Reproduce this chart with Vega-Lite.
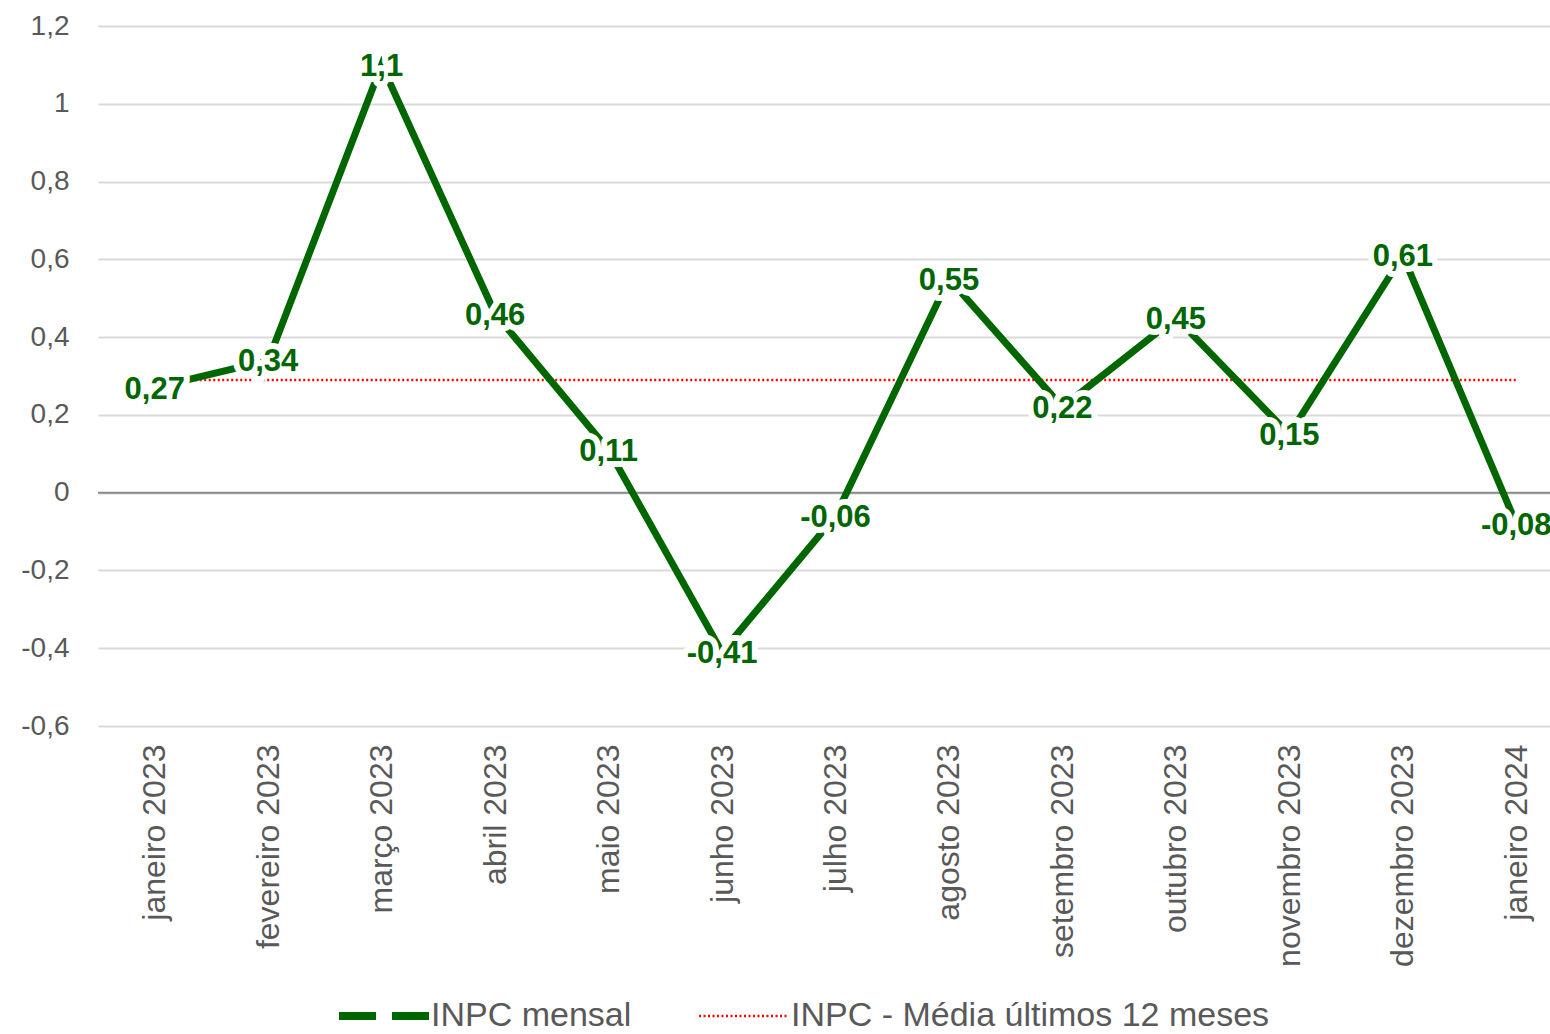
{
  "$schema": "https://vega.github.io/schema/vega-lite/v6.json",
  "width": 1475,
  "height": 700,
  "autosize": {"type": "none"},
  "padding": {"left": 98, "top": 26, "right": 0, "bottom": 308},
  "background": "white",
  "config": {
    "view": {"stroke": null},
    "font": "Liberation Sans",
    "locale": {"number": {"decimal": ",", "thousands": ".", "grouping": [3], "currency": ["R$", ""], "minus": "-"}}
  },
  "data": {
    "values": [
      {"mes": "janeiro 2023", "serie": "INPC mensal", "valor": 0.27},
      {"mes": "fevereiro 2023", "serie": "INPC mensal", "valor": 0.34},
      {"mes": "março 2023", "serie": "INPC mensal", "valor": 1.1},
      {"mes": "abril 2023", "serie": "INPC mensal", "valor": 0.46},
      {"mes": "maio 2023", "serie": "INPC mensal", "valor": 0.11},
      {"mes": "junho 2023", "serie": "INPC mensal", "valor": -0.41},
      {"mes": "julho 2023", "serie": "INPC mensal", "valor": -0.06},
      {"mes": "agosto 2023", "serie": "INPC mensal", "valor": 0.55},
      {"mes": "setembro 2023", "serie": "INPC mensal", "valor": 0.22},
      {"mes": "outubro 2023", "serie": "INPC mensal", "valor": 0.45},
      {"mes": "novembro 2023", "serie": "INPC mensal", "valor": 0.15},
      {"mes": "dezembro 2023", "serie": "INPC mensal", "valor": 0.61},
      {"mes": "janeiro 2024", "serie": "INPC mensal", "valor": -0.08},
      {"mes": "janeiro 2023", "serie": "INPC - Média últimos 12 meses", "valor": 0.29},
      {"mes": "fevereiro 2023", "serie": "INPC - Média últimos 12 meses", "valor": 0.29},
      {"mes": "março 2023", "serie": "INPC - Média últimos 12 meses", "valor": 0.29},
      {"mes": "abril 2023", "serie": "INPC - Média últimos 12 meses", "valor": 0.29},
      {"mes": "maio 2023", "serie": "INPC - Média últimos 12 meses", "valor": 0.29},
      {"mes": "junho 2023", "serie": "INPC - Média últimos 12 meses", "valor": 0.29},
      {"mes": "julho 2023", "serie": "INPC - Média últimos 12 meses", "valor": 0.29},
      {"mes": "agosto 2023", "serie": "INPC - Média últimos 12 meses", "valor": 0.29},
      {"mes": "setembro 2023", "serie": "INPC - Média últimos 12 meses", "valor": 0.29},
      {"mes": "outubro 2023", "serie": "INPC - Média últimos 12 meses", "valor": 0.29},
      {"mes": "novembro 2023", "serie": "INPC - Média últimos 12 meses", "valor": 0.29},
      {"mes": "dezembro 2023", "serie": "INPC - Média últimos 12 meses", "valor": 0.29},
      {"mes": "janeiro 2024", "serie": "INPC - Média últimos 12 meses", "valor": 0.29}
    ]
  },
  "layer": [
    {
      "mark": {"type": "line", "interpolate": "linear"},
      "transform": [{"filter": "datum.serie == 'INPC - Média últimos 12 meses'"}],
      "encoding": {
        "x": {
          "field": "mes", "type": "ordinal", "sort": null,
          "scale": {"type": "point", "padding": 0.5},
          "axis": {
            "title": null, "labelAngle": -90, "labelFontSize": 32, "labelColor": "#595959",
            "labelPadding": 18, "ticks": false, "domain": false, "grid": false, "labelLimit": 400
          }
        },
        "y": {
          "field": "valor", "type": "quantitative",
          "scale": {"domain": [-0.6, 1.2], "nice": false, "zero": false},
          "axis": {
            "title": null, "values": [-0.6, -0.4, -0.2, 0, 0.2, 0.4, 0.6, 0.8, 1, 1.2],
            "format": ".1~f", "labelFontSize": 28, "labelColor": "#595959", "labelPadding": 29,
            "ticks": false, "domain": false, "grid": true, "gridColor": "#d9d9d9", "gridWidth": 2
          }
        },
        "color": {
          "field": "serie", "type": "nominal",
          "scale": {"domain": ["INPC mensal", "INPC - Média últimos 12 meses"], "range": ["#006600", "#ff0000"]},
          "legend": {
            "title": null, "orient": "none", "legendX": 269, "legendY": 973, "direction": "horizontal", "symbolType": "stroke",
            "symbolSize": 8100, "labelFontSize": 34, "labelColor": "#595959", "labelOffset": 30,
            "columnPadding": 62, "labelLimit": 600,
            "encode": {
              "symbols": {
                "update": {
                  "strokeDash": {"signal": "datum.value == 'INPC mensal' ? [37, 16] : [2, 2.5]"},
                  "strokeWidth": {"signal": "datum.value == 'INPC mensal' ? 8 : 2.5"}
                }
              }
            }
          }
        },
        "strokeDash": {"value": [2, 2.5]},
        "strokeWidth": {"value": 2.5}
      }
    },
    {
      "data": {"values": [{"zero": 0}]},
      "mark": {"type": "rule", "color": "#8a8a8a", "strokeWidth": 2},
      "encoding": {"y": {"field": "zero", "type": "quantitative"}}
    },
    {
      "mark": {"type": "line", "strokeWidth": 7, "strokeCap": "butt", "strokeJoin": "miter"},
      "transform": [{"filter": "datum.serie == 'INPC mensal'"}],
      "encoding": {
        "x": {"field": "mes", "type": "ordinal", "sort": null},
        "y": {"field": "valor", "type": "quantitative"},
        "color": {"field": "serie", "type": "nominal"}
      }
    },
    {
      "mark": {"type": "text", "fontSize": 31, "fontWeight": "bold", "baseline": "middle", "align": "center", "dy": 2, "color": "white", "stroke": "white", "strokeWidth": 12, "strokeJoin": "round"},
      "transform": [{"filter": "datum.serie == 'INPC mensal'"}],
      "encoding": {
        "x": {"field": "mes", "type": "ordinal", "sort": null},
        "y": {"field": "valor", "type": "quantitative"},
        "text": {"field": "valor", "type": "quantitative", "format": ".2~f"}
      }
    },
    {
      "mark": {"type": "text", "fontSize": 31, "fontWeight": "bold", "baseline": "middle", "align": "center", "dy": 2, "color": "#006600"},
      "transform": [{"filter": "datum.serie == 'INPC mensal'"}],
      "encoding": {
        "x": {"field": "mes", "type": "ordinal", "sort": null},
        "y": {"field": "valor", "type": "quantitative"},
        "text": {"field": "valor", "type": "quantitative", "format": ".2~f"}
      }
    }
  ]
}
